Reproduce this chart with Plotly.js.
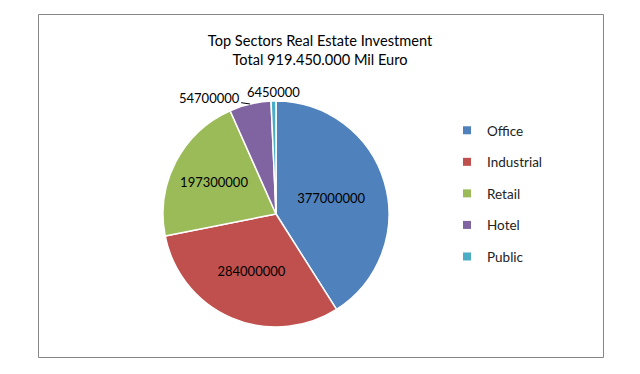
<!DOCTYPE html>
<html>
<head>
<meta charset="utf-8">
<script src="https://cdn.plot.ly/plotly-3.0.1.min.js"></script>
<style>html,body{margin:0;padding:0;background:#fff}#chart{width:640px;height:374px}</style>
</head>
<body>
<div id="chart"></div>
<script>
const sectors = ['Office', 'Industrial', 'Retail', 'Hotel', 'Public'];
const investment = [377000000, 284000000, 197300000, 54700000, 6450000];
const sectorColors = ['#4F81BD', '#C0504D', '#9BBB59', '#8064A2', '#4BACC6'];
const labelPositions = ['inside', 'inside', 'inside', 'none', 'none'];
const chartTitle = 'Top Sectors Real Estate Investment<br>Total 919.450.000 Mil Euro';

const FONT = 'Lato, "Open Sans", sans-serif';
const W = 640, H = 374;
const pieDomain = {x: [163/W, 389/W], y: [(H-327)/H, (H-101)/H]};

const pie = {
  type: 'pie',
  labels: sectors,
  values: investment,
  sort: false,
  direction: 'clockwise',
  rotation: 0,
  marker: {colors: sectorColors, line: {color: '#ffffff', width: 1.5}},
  texttemplate: '%{value:d}',
  textposition: labelPositions,
  insidetextorientation: 'horizontal',
  textfont: {family: FONT, size: 13, color: '#000000'},
  insidetextfont: {family: FONT, size: 13, color: '#000000'},
  domain: pieDomain,
  showlegend: false,
  hoverinfo: 'label+value+percent'
};

// legend entries (one per sector) so the item spacing can match the reference
const legendTraces = sectors.map((s, i) => ({
  type: 'scatter',
  mode: 'markers',
  x: [null], y: [null],
  name: s,
  legendgroup: s,
  marker: {symbol: 'square', size: 8, color: sectorColors[i]},
  showlegend: true,
  hoverinfo: 'skip'
}));

// outside labels for the two small slices, anchored on the slice's outer edge
const total = investment.reduce((a, b) => a + b, 0);
const cx = (pieDomain.x[0] + pieDomain.x[1]) / 2;
const cy = (pieDomain.y[0] + pieDomain.y[1]) / 2;
const rPx = Math.min((pieDomain.x[1] - pieDomain.x[0]) * W, (pieDomain.y[1] - pieDomain.y[0]) * H) / 2;
const annotations = [];
let cum = 0;
investment.forEach((v, i) => {
  const mid = (cum + v / 2) / total * 2 * Math.PI;
  cum += v;
  if (labelPositions[i] !== 'none') return;
  const px = cx + rPx * Math.sin(mid) / W;
  const py = cy + rPx * Math.cos(mid) / H;
  const isSmallest = i === investment.length - 1;
  annotations.push({
    xref: 'paper', yref: 'paper', x: px, y: py,
    xanchor: 'center', yanchor: 'middle',
    text: String(v),
    font: {family: FONT, size: 13, color: '#000000'},
    showarrow: !isSmallest,
    arrowhead: 0, arrowwidth: 1, arrowcolor: '#000000',
    ax: isSmallest ? 0 : -41, ay: isSmallest ? 0 : -6,
    yshift: isSmallest ? 9 : 0,
    standoff: 0
  });
});

const layout = {
  width: W, height: H,
  margin: {l: 0, r: 0, t: 0, b: 0},
  paper_bgcolor: '#ffffff',
  plot_bgcolor: 'rgba(0,0,0,0)',
  font: {family: FONT, size: 12, color: '#000000'},
  title: {
    text: chartTitle,
    font: {family: FONT, size: 14.6, color: '#000000'},
    x: 0.5, xanchor: 'center',
    y: 1 - 46/H, yanchor: 'top'
  },
  xaxis: {visible: false, domain: [0.9, 0.95]},
  yaxis: {visible: false, domain: [0.9, 0.95]},
  legend: {
    x: 447/W, xanchor: 'left',
    y: 1 - 115/H, yanchor: 'top',
    tracegroupgap: 11,
    itemwidth: 30,
    font: {family: FONT, size: 13.5, color: '#222222'},
    bgcolor: 'rgba(0,0,0,0)'
  },
  annotations: annotations,
  shapes: [{
    type: 'rect', xref: 'paper', yref: 'paper',
    x0: 38.5/W, x1: 603.5/W, y0: 1 - 357.5/H, y1: 1 - 14.5/H,
    line: {color: '#868686', width: 1}
  }]
};

Plotly.newPlot('chart', [pie].concat(legendTraces), layout, {staticPlot: true, displayModeBar: false});
</script>
</body>
</html>
